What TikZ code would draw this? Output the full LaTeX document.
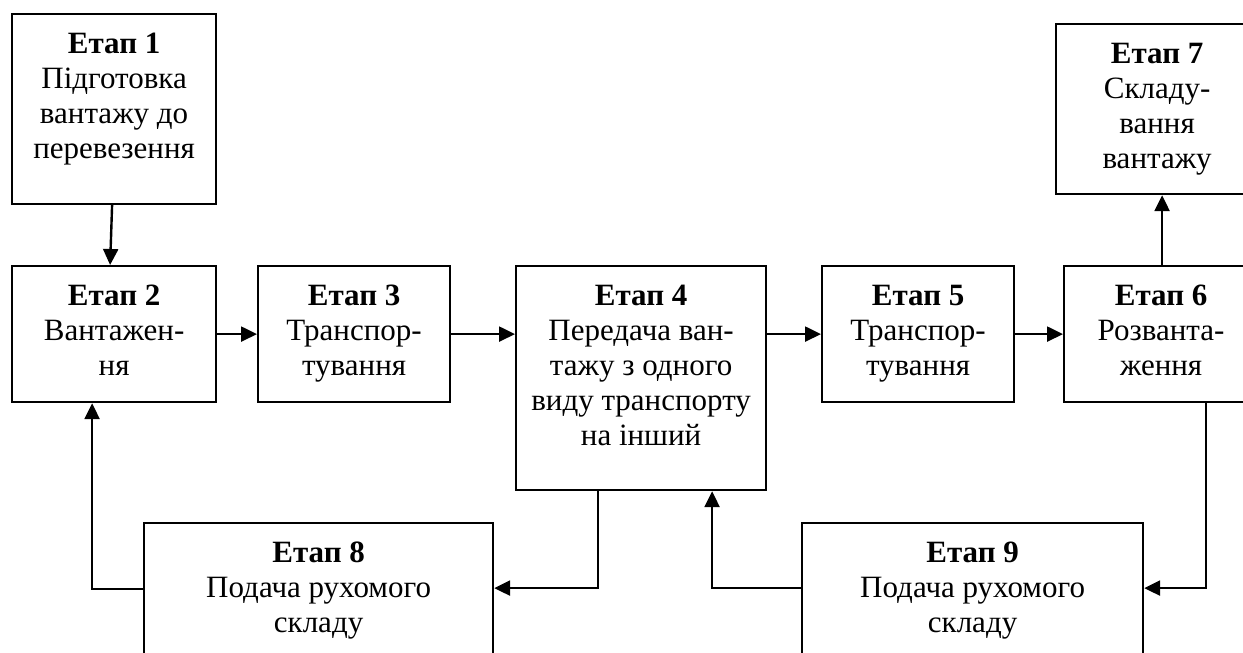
\documentclass[tikz,border=0pt]{standalone}
\usepackage{fontspec}
\setmainfont{Liberation Serif}
\usetikzlibrary{arrows.meta,calc}
\begin{document}
\begin{tikzpicture}[x=1pt,y=-1pt,
  box/.style={draw, line width=2.2pt, inner sep=0pt, anchor=north west},
  txt/.style={align=center, inner sep=0pt, anchor=north, font=\fontsize{31}{35}\selectfont},
  arr/.style={line width=2.4pt, -{Triangle[length=16pt,width=15pt]}}]
\useasboundingbox (0,0) rectangle (1243,653);
\clip (0,0) rectangle (1243,653);
\fill[white] (0,0) rectangle (1243,653);

% boxes
\node[box, minimum width=204pt, minimum height=190pt] (b1) at (11,13) {};
\node[box, minimum width=204pt, minimum height=136pt] (b2) at (11,265) {};
\node[box, minimum width=192pt, minimum height=136pt] (b3) at (257,265) {};
\node[box, minimum width=250pt, minimum height=224pt] (b4) at (515,265) {};
\node[box, minimum width=192pt, minimum height=136pt] (b5) at (821,265) {};
\node[box, minimum width=194pt, minimum height=136pt] (b6) at (1063,265) {};
\node[box, minimum width=202pt, minimum height=170pt] (b7) at (1055,23) {};
\node[box, minimum width=349pt, minimum height=136pt] (b8) at (143,522) {};
\node[box, minimum width=341pt, minimum height=136pt] (b9) at (801,522) {};

% texts
\node[txt] (t1) at ([yshift=-20pt]b1.north) {\textbf{Етап 1}\\Підготовка\\вантажу до\\перевезення};
\node[txt] (t2) at ([yshift=-20pt]b2.north) {\textbf{Етап 2}\\Вантажен-\\ня};
\node[txt] (t3) at ([yshift=-20pt]b3.north) {\textbf{Етап 3}\\Транспор-\\тування};
\node[txt] (t4) at ([yshift=-20pt]b4.north) {\textbf{Етап 4}\\Передача ван-\\тажу з одного\\виду транспорту\\на інший};
\node[txt] (t5) at ([yshift=-20pt]b5.north) {\textbf{Етап 5}\\Транспор-\\тування};
\node[txt] (t6) at ([yshift=-20pt]b6.north) {\textbf{Етап 6}\\Розванта-\\ження};
\node[txt] (t7) at ([yshift=-20pt]b7.north) {\textbf{Етап 7}\\Складу-\\вання\\вантажу};
\node[txt] (t8) at ([yshift=-20pt]b8.north) {\textbf{Етап 8}\\Подача рухомого\\складу};
\node[txt] (t9) at ([yshift=-20pt]b9.north) {\textbf{Етап 9}\\Подача рухомого\\складу};

% connectors
\draw[arr] ([xshift=-2pt]b1.south) -- ([xshift=-4pt]b2.north);
\draw[arr] (b2.east) -- (b3.west);
\draw[arr] (b3.east) -- (b3.east -| b4.west);
\draw[arr] (b5.west -| b4.east) -- (b5.west);
\draw[arr] (b5.east) -- (b6.west);
\draw[arr] ([xshift=1pt]b6.north) -- ([xshift=1pt]b6.north |- b7.south);
\coordinate (c6) at ([xshift=45pt]b6.south);
\draw[arr] (c6) |- ([yshift=3pt]b9.east);
\coordinate (c4) at ([xshift=-43pt]b4.south);
\draw[arr] (c4) |- ([yshift=3pt]b8.east);
\coordinate (c4in) at ([xshift=71pt]b4.south);
\draw[arr] ([yshift=3pt]b9.west) -| (c4in);
\coordinate (c2in) at ([xshift=-22pt]b2.south);
\draw[arr] ([yshift=2pt]b8.west) -| (c2in);
\end{tikzpicture}
\end{document}
